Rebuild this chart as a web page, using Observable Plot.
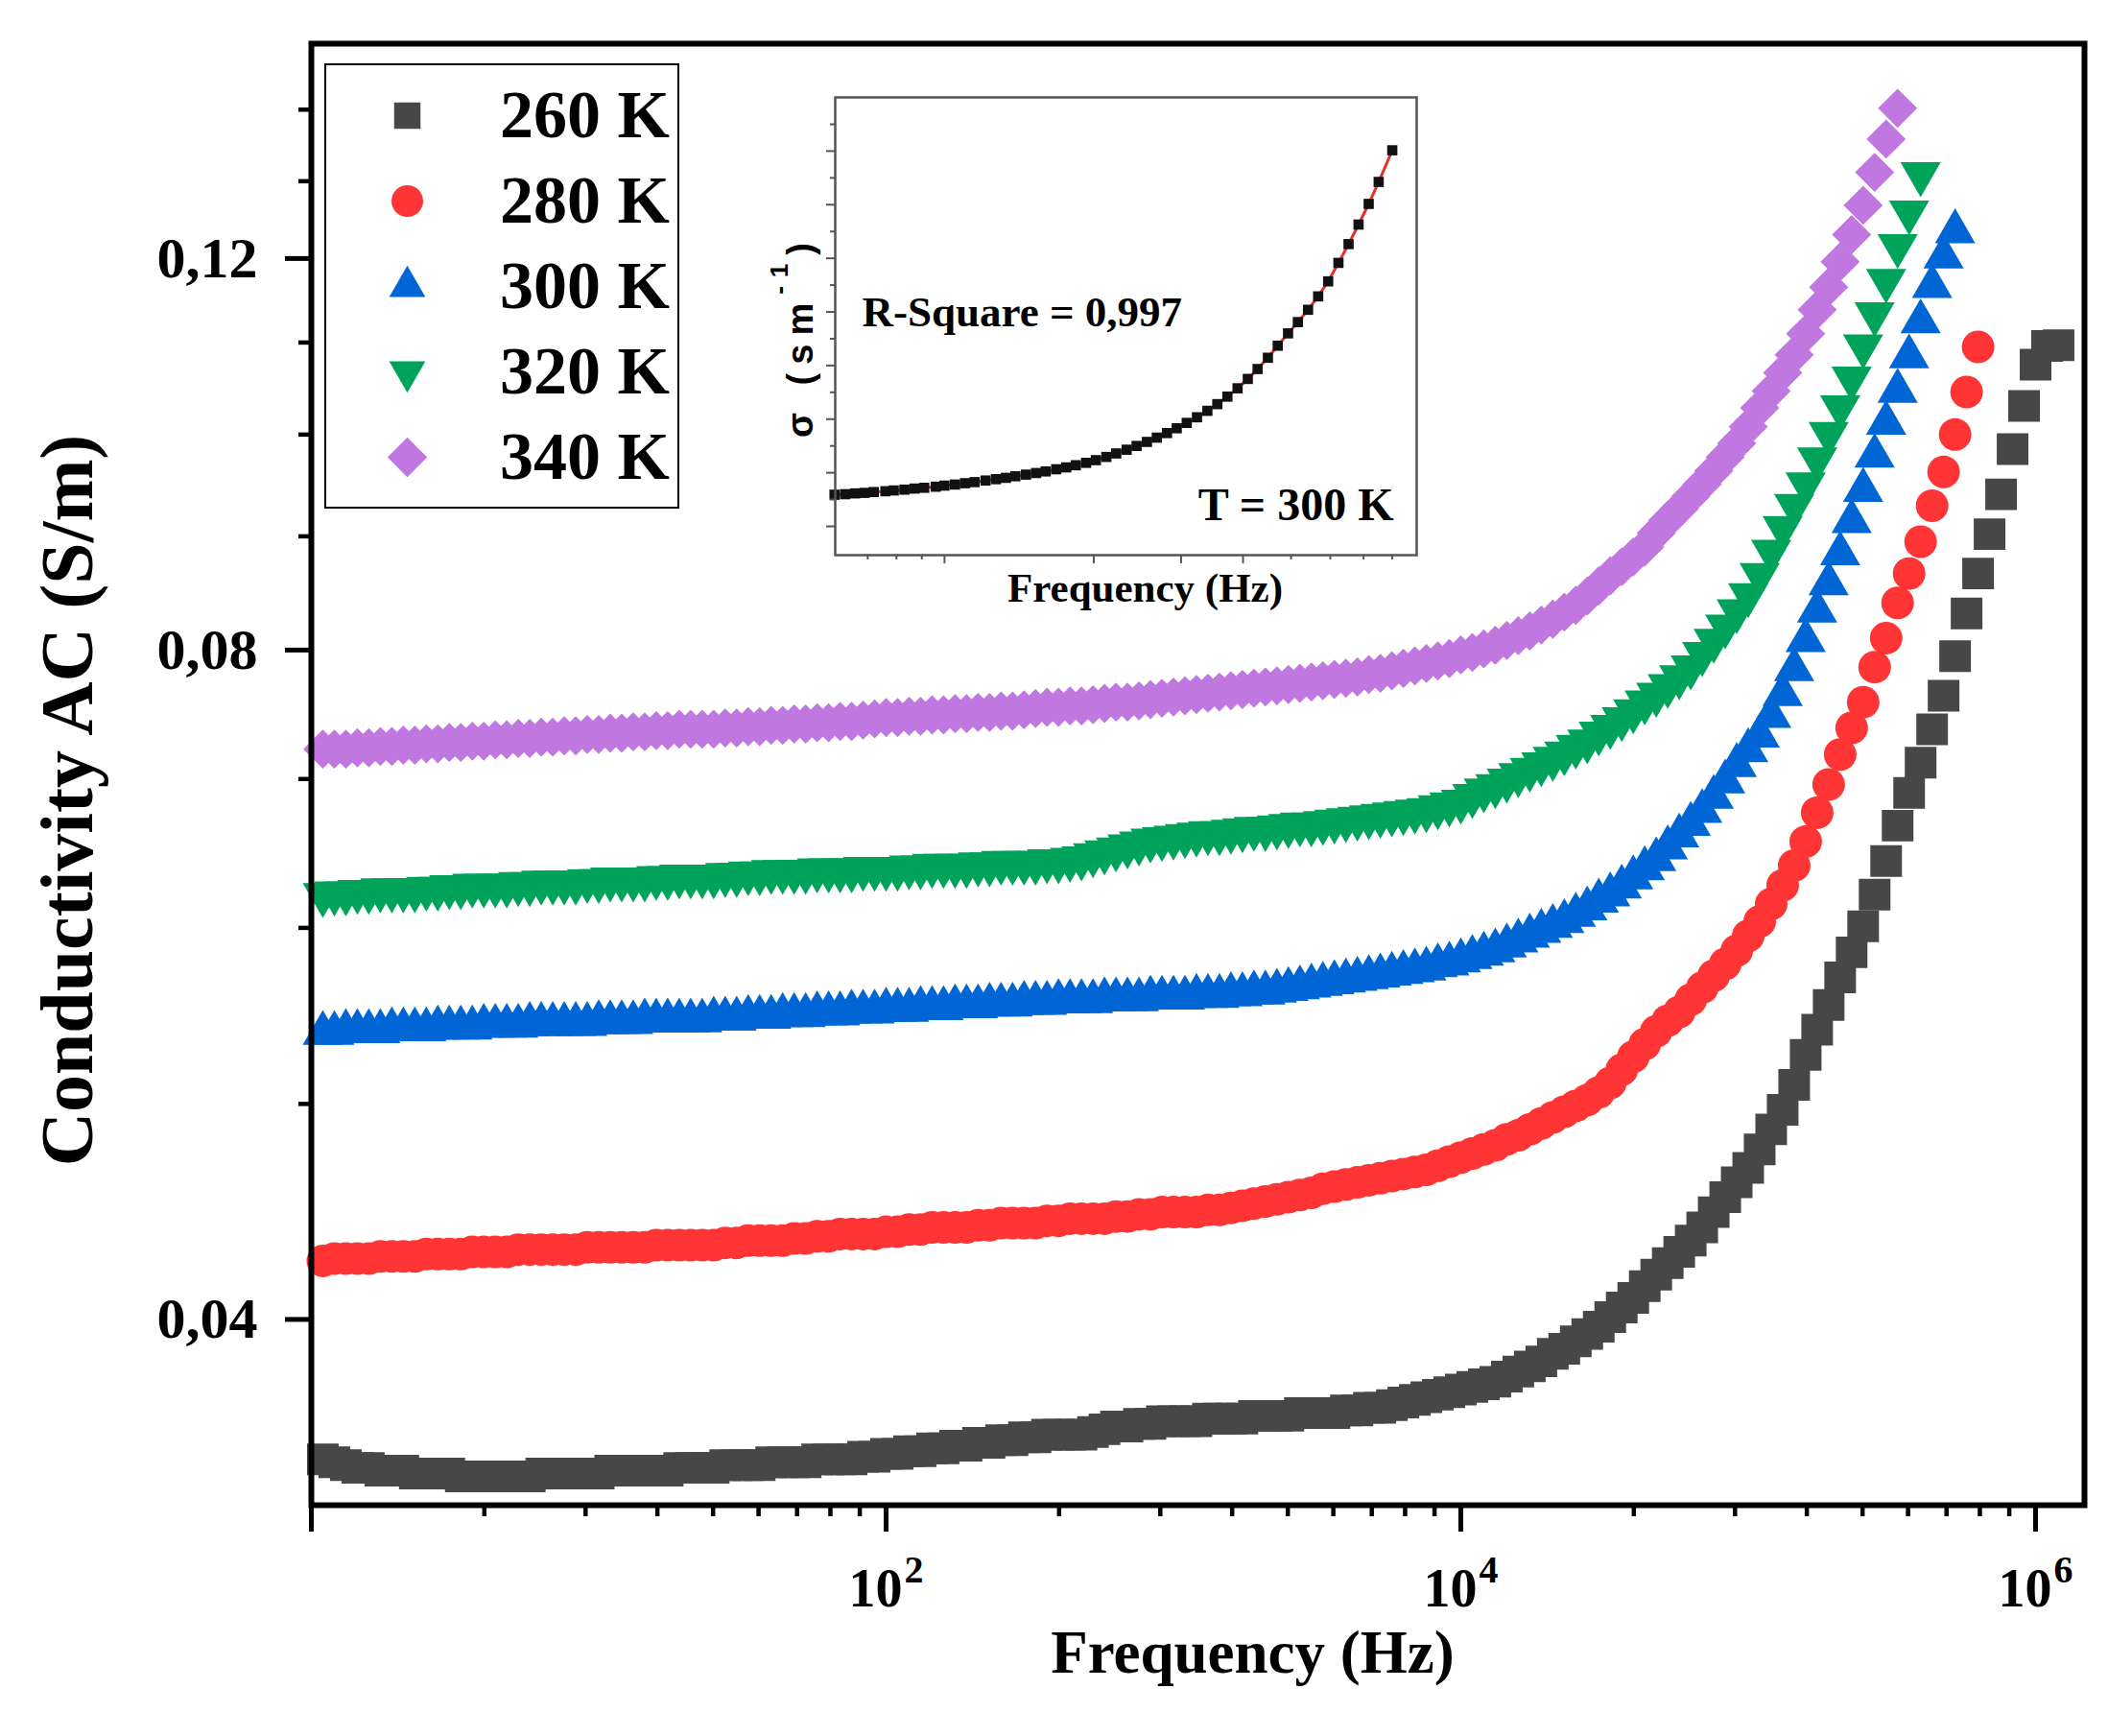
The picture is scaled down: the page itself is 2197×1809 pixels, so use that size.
<!DOCTYPE html>
<html lang="en">
<head>
<meta charset="utf-8">
<title>Conductivity AC vs frequency</title>
<script src="https://cdn.jsdelivr.net/npm/d3@7"></script>
<script src="https://cdn.jsdelivr.net/npm/@observablehq/plot@0.6"></script>
<style>
  body { margin: 0; background: white; }
  #chart { position: relative; width: 2197px; height: 1809px; }
  #legend {
    position: absolute; left: 338px; top: 66px;
    width: 370px; height: 464px;
    border: 2.5px solid #000; box-sizing: border-box; background: white;
  }
  #inset { position: absolute; left: 780px; top: 90px; }
</style>
</head>
<body>
<div id="chart"><div id="legend"></div><div id="inset"></div></div>

<script>
  // log10 of the measuring frequencies (Hz)
  const logF = [
    0.04,0.08,0.12,0.16,0.20,0.24,0.28,0.32,0.36,0.40,0.44,0.48,0.52,0.56,0.60,0.64,0.68,0.72,0.76,0.80,0.84,0.88,0.92,0.96,1.00,
    1.04,1.08,1.12,1.16,1.20,1.24,1.28,1.32,1.36,1.40,1.44,1.48,1.52,1.56,1.60,1.64,1.68,1.72,1.76,1.80,1.84,1.88,1.92,1.96,2.00,
    2.04,2.08,2.12,2.16,2.20,2.24,2.28,2.32,2.36,2.40,2.44,2.48,2.52,2.56,2.60,2.64,2.68,2.72,2.76,2.80,2.84,2.88,2.92,2.96,3.00,
    3.04,3.08,3.12,3.16,3.20,3.24,3.28,3.32,3.36,3.40,3.44,3.48,3.52,3.56,3.60,3.64,3.68,3.72,3.76,3.80,3.84,3.88,3.92,3.96,4.00,
    4.04,4.08,4.12,4.16,4.20,4.24,4.28,4.32,4.36,4.40,4.44,4.48,4.52,4.56,4.60,4.64,4.68,4.72,4.76,4.80,4.84,4.88,4.92,4.96,5.00,
    5.04,5.08,5.12,5.16,5.20,5.24,5.28,5.32,5.36,5.40,5.44,5.48,5.52,5.56,5.60,5.64,5.68,5.72,5.76,5.80,5.84,5.88,5.92,5.96,6.00,
    6.04,6.08
  ];

  const temps = ["260 K", "280 K", "300 K", "320 K", "340 K"];

  const sigma260 = [
    0.0346,0.0345,0.0344,0.0343,0.0343,0.0342,0.0342,0.0342,0.0341,0.0341,
    0.0341,0.0341,0.0340,0.0340,0.0340,0.0340,0.0340,0.0340,0.0340,0.0341,
    0.0341,0.0341,0.0341,0.0341,0.0341,0.0342,0.0342,0.0342,0.0342,0.0342,
    0.0342,0.0343,0.0343,0.0343,0.0343,0.0344,0.0344,0.0344,0.0344,0.0345,
    0.0345,0.0345,0.0345,0.0346,0.0346,0.0346,0.0346,0.0347,0.0347,0.0348,
    0.0348,0.0349,0.0349,0.0350,0.0350,0.0351,0.0351,0.0352,0.0352,0.0353,
    0.0353,0.0354,0.0354,0.0355,0.0355,0.0355,0.0355,0.0356,0.0357,0.0358,
    0.0358,0.0359,0.0359,0.0360,0.0360,0.0360,0.0360,0.0361,0.0361,0.0361,
    0.0361,0.0362,0.0362,0.0362,0.0362,0.0363,0.0363,0.0363,0.0363,0.0364,
    0.0364,0.0365,0.0365,0.0366,0.0367,0.0368,0.0369,0.0370,0.0371,0.0372,
    0.0373,0.0374,0.0375,0.0377,0.0379,0.0381,0.0383,0.0386,0.0388,0.0391,
    0.0394,0.0397,0.0401,0.0405,0.0409,0.0414,0.0419,0.0424,0.0429,
    0.0434,0.0440,0.0447,0.0454,0.0461,0.0468,0.0477,0.0487,0.0497,0.0510,
    0.0526,0.0540,0.0554,0.0570,0.0585,0.0601,0.0621,0.0643,0.0667,0.0690,
    0.0712,0.0737,0.0763,0.0795,0.0831,0.0866,0.0902,0.0940,0.0985,0.1030,
    0.1075,0.1096,0.1097
  ];
  const sigma280 = [
    0.0425,0.0426,0.0426,0.0426,0.0426,0.0427,0.0427,0.0427,0.0427,0.0428,
    0.0428,0.0428,0.0428,0.0429,0.0429,0.0429,0.0429,0.0430,0.0430,0.0430,
    0.0430,0.0430,0.0430,0.0431,0.0431,0.0431,0.0431,0.0431,0.0431,0.0432,
    0.0432,0.0432,0.0432,0.0432,0.0432,0.0433,0.0433,0.0434,0.0434,0.0434,
    0.0434,0.0435,0.0435,0.0436,0.0436,0.0437,0.0437,0.0437,0.0437,0.0438,
    0.0438,0.0439,0.0439,0.0440,0.0440,0.0440,0.0440,0.0441,0.0441,0.0442,
    0.0442,0.0442,0.0442,0.0443,0.0443,0.0444,0.0444,0.0444,0.0444,0.0445,
    0.0445,0.0446,0.0446,0.0447,0.0447,0.0447,0.0447,0.0448,0.0448,0.0449,
    0.0450,0.0451,0.0452,0.0453,0.0454,0.0455,0.0456,0.0458,0.0459,0.0460,
    0.0461,0.0462,0.0463,0.0464,0.0465,0.0466,0.0467,0.0469,0.0471,0.0473,
    0.0475,0.0477,0.0479,0.0482,0.0484,0.0487,0.0490,0.0493,0.0496,0.0499,
    0.0502,0.0506,0.0511,0.0518,0.0525,0.0532,0.0539,0.0545,0.0550,
    0.0557,0.0564,0.0571,0.0578,0.0586,0.0595,0.0604,0.0615,0.0627,0.0640,
    0.0656,0.0676,0.0696,0.0718,0.0738,0.0758,0.0786,0.0810,0.0840,0.0866,
    0.0895,0.0929,0.0962,0.1000,0.1045,0.1095
  ];
  const sigma300 = [
    0.0538,0.0538,0.0539,0.0539,0.0539,0.0539,0.0540,0.0540,0.0540,0.0540,
    0.0541,0.0541,0.0541,0.0541,0.0542,0.0542,0.0542,0.0542,0.0543,0.0543,
    0.0543,0.0543,0.0543,0.0543,0.0544,0.0544,0.0544,0.0544,0.0545,0.0545,
    0.0545,0.0545,0.0545,0.0545,0.0546,0.0546,0.0546,0.0547,0.0547,0.0547,
    0.0548,0.0548,0.0548,0.0549,0.0549,0.0549,0.0550,0.0550,0.0550,0.0551,
    0.0551,0.0551,0.0552,0.0552,0.0552,0.0553,0.0553,0.0553,0.0554,0.0554,
    0.0554,0.0555,0.0555,0.0555,0.0556,0.0556,0.0556,0.0556,0.0557,0.0557,
    0.0557,0.0557,0.0558,0.0558,0.0558,0.0558,0.0559,0.0559,0.0559,0.0560,
    0.0560,0.0561,0.0561,0.0562,0.0563,0.0564,0.0565,0.0566,0.0567,0.0568,
    0.0569,0.0570,0.0571,0.0572,0.0573,0.0574,0.0575,0.0577,0.0578,0.0580,
    0.0582,0.0584,0.0586,0.0589,0.0592,0.0595,0.0598,0.0601,0.0604,0.0608,
    0.0612,0.0617,0.0621,0.0626,0.0632,0.0638,0.0644,0.0652,0.0660,
    0.0668,0.0677,0.0687,0.0698,0.0710,0.0721,0.0732,0.0747,0.0764,0.0784,
    0.0808,0.0833,0.0857,0.0884,0.0914,0.0944,0.0978,0.1012,0.1046,0.1084,
    0.1124,0.1166,0.1202,0.1234
  ];
  const sigma320 = [
    0.0621,0.0622,0.0622,0.0623,0.0623,0.0624,0.0624,0.0624,0.0624,0.0625,
    0.0625,0.0626,0.0626,0.0627,0.0627,0.0627,0.0627,0.0628,0.0628,0.0629,
    0.0629,0.0629,0.0629,0.0630,0.0630,0.0631,0.0631,0.0631,0.0631,0.0632,
    0.0632,0.0633,0.0633,0.0633,0.0633,0.0634,0.0634,0.0635,0.0635,0.0636,
    0.0636,0.0636,0.0636,0.0637,0.0637,0.0637,0.0637,0.0638,0.0638,0.0638,
    0.0638,0.0639,0.0639,0.0640,0.0640,0.0640,0.0640,0.0641,0.0641,0.0642,
    0.0642,0.0642,0.0642,0.0643,0.0643,0.0644,0.0645,0.0647,0.0649,0.0651,
    0.0653,0.0655,0.0657,0.0658,0.0659,0.0660,0.0661,0.0662,0.0662,0.0663,
    0.0664,0.0665,0.0665,0.0666,0.0667,0.0668,0.0668,0.0669,0.0670,0.0671,
    0.0672,0.0673,0.0674,0.0675,0.0676,0.0677,0.0678,0.0680,0.0682,0.0684,
    0.0688,0.0692,0.0695,0.0699,0.0703,0.0707,0.0711,0.0715,0.0719,0.0724,
    0.0728,0.0734,0.0739,0.0745,0.0751,0.0758,0.0764,0.0771,0.0778,
    0.0786,0.0797,0.0808,0.0820,0.0833,0.0847,0.0865,0.0886,0.0908,0.0929,
    0.0950,0.0975,0.1001,0.1029,0.1060,0.1096,0.1133,0.1173,0.1216,0.1259,
    0.1310
  ];
  const sigma340 = [
    0.0722,0.0722,0.0722,0.0723,0.0723,0.0724,0.0724,0.0725,0.0725,0.0726,
    0.0726,0.0727,0.0727,0.0728,0.0728,0.0729,0.0729,0.0730,0.0730,0.0731,
    0.0731,0.0732,0.0732,0.0733,0.0733,0.0734,0.0734,0.0735,0.0735,0.0736,
    0.0736,0.0737,0.0737,0.0737,0.0737,0.0738,0.0738,0.0739,0.0739,0.0740,
    0.0740,0.0741,0.0741,0.0742,0.0742,0.0743,0.0743,0.0744,0.0745,0.0746,
    0.0746,0.0747,0.0747,0.0748,0.0748,0.0749,0.0749,0.0750,0.0750,0.0751,
    0.0751,0.0752,0.0753,0.0754,0.0754,0.0755,0.0755,0.0756,0.0757,0.0758,
    0.0758,0.0759,0.0760,0.0761,0.0762,0.0763,0.0764,0.0765,0.0766,0.0767,
    0.0768,0.0769,0.0770,0.0771,0.0772,0.0773,0.0774,0.0775,0.0776,0.0777,
    0.0778,0.0780,0.0781,0.0783,0.0785,0.0787,0.0789,0.0791,0.0793,0.0796,
    0.0798,0.0801,0.0804,0.0808,0.0812,0.0816,0.0821,0.0826,0.0832,0.0838,
    0.0846,0.0855,0.0864,0.0872,0.0881,0.0890,0.0903,0.0915,0.0926,
    0.0938,0.0950,0.0963,0.0977,0.0991,0.1008,0.1028,0.1046,0.1066,0.1086,
    0.1110,0.1138,0.1165,0.1196,0.1230,0.1268,0.1312,0.1358,0.1402
  ];

  // axis ticks
  const xMajor = [1, 1e2, 1e4, 1e6];
  const xLabelled = [1e2, 1e4, 1e6];
  const xMinorSteps = [4, 9, 16, 25, 36, 49, 64, 81];
  const xMinorDecades = [1, 1e2, 1e4];
  const yMajor = [0.04, 0.08, 0.12];
  const yMinor = [0.05, 0.06, 0.07, 0.09, 0.10, 0.11, 0.13, 0.14];

  // inset: 300 K fit, frequency in units of 1e5 Hz
  const insetFreq = [
    0.60,0.63,0.66,0.69,0.72,0.76,0.79,0.83,0.87,0.91,
    0.96,1.00,1.05,1.10,1.15,1.21,1.27,1.33,1.39,1.46,
    1.53,1.60,1.68,1.76,1.84,1.93,2.02,2.12,2.22,2.33,
    2.44,2.56,2.68,2.81,2.94,3.08,3.23,3.39,3.55,3.72,
    3.90,4.09,4.28,4.49,4.70,4.93,5.16,5.41,5.67,5.94,
    6.23,6.53,6.84,7.17,7.51,8.00
  ];
  const insetSigma = [
    0.0618,0.0620,0.0623,0.0625,0.0628,0.0631,0.0634,0.0637,0.0641,0.0644,
    0.0648,0.0652,0.0656,0.0661,0.0665,0.0671,0.0676,0.0681,0.0687,0.0693,
    0.0699,0.0705,0.0713,0.0720,0.0728,0.0737,0.0747,0.0759,0.0772,0.0786,
    0.0800,0.0815,0.0831,0.0848,0.0866,0.0886,0.0907,0.0931,0.0956,0.0984,
    0.1015,0.1050,0.1087,0.1129,0.1174,0.1220,0.1262,0.1308,0.1358,0.1414,
    0.1483,0.1553,0.1626,0.1703,0.1785,0.1903
  ];
  const insetXMajor = [1, 2, 3, 4];
  const insetXMinor = [0.7, 0.8, 0.9, 5, 6, 7, 8];
  const insetYMajor = [0.05, 0.07, 0.09, 0.11, 0.13, 0.15, 0.17, 0.19];
  const insetYMinor = [0.06, 0.08, 0.10, 0.12, 0.14, 0.16, 0.18, 0.20];

  const colors = ["#474747", "#ff3434", "#0066d6", "#00a35a", "#c078e0"];
  const symbols = ["square", "circle", "triangle", "triangle", "square"];
  const rotations = [0, 0, 0, 180, 45];
  const dotR = [18.6, 17, 15.6, 15.6, 16.3];
  const legendR = [15.5, 16.5, 14, 14, 16.5];

  const serif = "'Liberation Serif', 'Times New Roman', serif";
  const series = [sigma260, sigma280, sigma300, sigma320, sigma340];
  const rows = series.map((vals, i) =>
    vals.map((s, j) => ({temp: temps[i], freq: 10 ** logF[j], sigma: s})));
  const xMinor = xMinorDecades.flatMap(d => xMinorSteps.map(m => m * d));

  const chart = Plot.plot({
    width: 2197, height: 1809,
    marginLeft: 324, marginRight: 25, marginTop: 45, marginBottom: 241,
    style: {fontFamily: serif, fontWeight: "bold", color: "black", background: "white"},
    x: {type: "log", domain: [1, 1.48e6]},
    y: {type: "log", domain: [0.033, 0.1499]},
    marks: [
      ...rows.map((data, i) => Plot.dot(data, {
        x: "freq", y: "sigma", symbol: symbols[i], fill: colors[i],
        r: dotR[i], rotate: rotations[i]
      })),
      Plot.frame({stroke: "black", strokeWidth: 6}),
      Plot.axisX(xMajor, {anchor: "bottom", tickSize: 28, strokeWidth: 5, tickFormat: () => "", label: null}),
      Plot.axisX(xMinor, {anchor: "bottom", tickSize: 12, strokeWidth: 4.5, tickFormat: () => "", label: null}),
      Plot.axisY(yMajor, {
        anchor: "left", tickSize: 27, tickPadding: 29, strokeWidth: 5, fontSize: 60,
        tickFormat: d => d.toFixed(2).replace(".", ","), label: null
      }),
      Plot.axisY(yMinor, {anchor: "left", tickSize: 13, strokeWidth: 4.5, tickFormat: () => "", label: null}),
      Plot.text(xLabelled, {
        x: d => d, frameAnchor: "bottom", text: () => "10",
        textAnchor: "end", lineAnchor: "bottom", dx: 17, dy: 105, fontSize: 56
      }),
      Plot.text(xLabelled, {
        x: d => d, frameAnchor: "bottom", text: d => String(Math.round(Math.log10(d))),
        textAnchor: "start", lineAnchor: "bottom", dx: 19, dy: 80, fontSize: 40
      }),
      Plot.text(["Frequency (Hz)"], {
        frameAnchor: "bottom", text: d => d, textAnchor: "middle", lineAnchor: "bottom",
        dx: 57, dy: 174, fontSize: 63
      }),
      Plot.text(["Conductivity AC (S/m)"], {
        frameAnchor: "left", text: d => d, rotate: -90, textAnchor: "middle", lineAnchor: "bottom",
        dx: -229, dy: 27, fontSize: 78
      })
    ]
  });
  document.getElementById("chart").prepend(chart);

  // legend
  const legend = Plot.plot({
    width: 365, height: 459, margin: 0,
    style: {fontFamily: serif, fontWeight: "bold", color: "black"},
    x: {domain: [0, 1], range: [84, 180.5], axis: null},
    y: {type: "point", domain: temps, range: [50.5, 409.3], padding: 0, axis: null},
    marks: [
      ...temps.map((t, i) => Plot.dot([t], {
        x: () => 0, y: d => d, symbol: symbols[i], fill: colors[i],
        r: legendR[i], rotate: rotations[i]
      })),
      Plot.text(temps, {x: () => 1, y: d => d, text: d => d, textAnchor: "start", fontSize: 70})
    ]
  });
  document.getElementById("legend").appendChild(legend);

  // inset
  const insetPts = insetFreq.map((f, i) => ({f, s: insetSigma[i]}));
  const grey = "#555";
  const inset = Plot.plot({
    width: 706, height: 560,
    marginLeft: 90, marginTop: 11, marginRight: 10, marginBottom: 72,
    style: {fontFamily: serif, fontWeight: "bold", color: "black"},
    x: {type: "log", domain: [0.602, 8.96]},
    y: {domain: [0.03926, 0.21003]},
    marks: [
      Plot.line(insetPts, {x: "f", y: "s", stroke: "#e8302a", strokeWidth: 3}),
      Plot.dot(insetPts, {x: "f", y: "s", symbol: "square", fill: "#111", r: 6}),
      Plot.frame({stroke: grey, strokeWidth: 2.5}),
      Plot.axisX(insetXMajor, {anchor: "bottom", tickSize: 9, stroke: grey, strokeWidth: 2, tickFormat: () => "", label: null}),
      Plot.axisX(insetXMinor, {anchor: "bottom", tickSize: 5, stroke: grey, strokeWidth: 2, tickFormat: () => "", label: null}),
      Plot.axisY(insetYMajor, {anchor: "left", tickSize: 9, stroke: grey, strokeWidth: 2, tickFormat: () => "", label: null}),
      Plot.axisY(insetYMinor, {anchor: "left", tickSize: 5, stroke: grey, strokeWidth: 2, tickFormat: () => "", label: null}),
      Plot.text(["R-Square = 0,997"], {
        frameAnchor: "top-left", text: d => d, textAnchor: "start", lineAnchor: "bottom",
        dx: 28, dy: 238, fontSize: 45
      }),
      Plot.text(["T = 300 K"], {
        frameAnchor: "top-right", text: d => d, textAnchor: "end", lineAnchor: "bottom",
        dx: -24, dy: 440, fontSize: 48
      }),
      Plot.text(["Frequency (Hz)"], {
        frameAnchor: "bottom", text: d => d, textAnchor: "middle", lineAnchor: "bottom",
        dx: 20, dy: 48, fontSize: 43
      })
    ]
  });
  document.getElementById("inset").appendChild(inset);

  // inset y label with superscript
  const ylab = d3.select(inset).append("text")
    .attr("transform", "translate(67,260) rotate(-90)")
    .attr("text-anchor", "middle")
    .style("font-family", "'Liberation Sans', Arial, sans-serif")
    .style("font-weight", "bold")
    .style("font-size", "38px")
    .style("letter-spacing", "9px");
  ylab.append("tspan").text("σ (sm");
  ylab.append("tspan").attr("dy", -26).style("font-size", "26px").text("-1");
  ylab.append("tspan").attr("dy", 26).text(")");
</script>
</body>
</html>
